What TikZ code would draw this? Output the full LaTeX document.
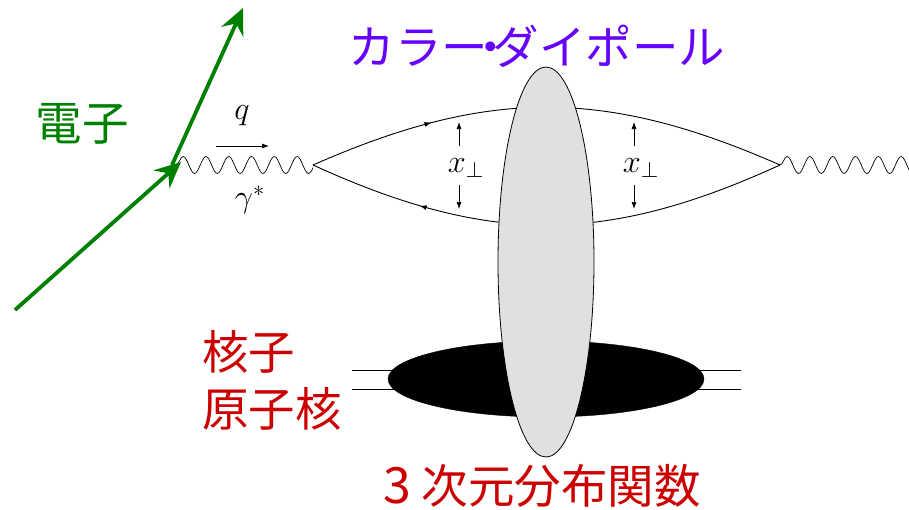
\documentclass[tikz,border=0pt]{standalone}
\usepackage{fontspec}
\usepackage{amsmath}
\newfontfamily\cjk{Noto Sans CJK JP}
\usetikzlibrary{shapes.geometric,arrows.meta,positioning,calc,decorations.pathmorphing,decorations.markings}
\definecolor{electrongreen}{RGB}{0, 128, 0}
\definecolor{dipolepurple}{RGB}{102, 0, 255}
\definecolor{nucleusred}{RGB}{204, 0, 0}
\definecolor{dipolegray}{RGB}{224, 224, 224}

\begin{document}
\begin{tikzpicture}[x=1pt, y=-1pt,
  electron/.style={draw=electrongreen, line width=3.8pt, -{Stealth[length=26pt, width=24pt, inset=9pt]}},
  photon/.style={draw=black, line width=0.7pt, decorate, decoration={snake, amplitude=8.5pt, segment length=22.8pt}},
  quarktop/.style={draw=black, line width=0.9pt, postaction={decorate}, decoration={markings, mark=at position 0.26 with {\arrow{Latex[length=7pt, width=5pt]}}}},
  quarkbot/.style={draw=black, line width=0.9pt, postaction={decorate}, decoration={markings, mark=at position 0.765 with {\arrow{Latex[length=7pt, width=5pt]}}}},
  dimarrow/.style={draw=black, line width=0.7pt, -{Latex[length=7pt, width=5pt]}},
  dipole/.style={draw=black, ellipse, fill=dipolegray, line width=0.8pt, minimum width=96pt, minimum height=390pt, inner sep=0pt},
  nucleon/.style={draw=black, ellipse, fill=black, minimum width=316pt, minimum height=76pt, inner sep=0pt},
  leg/.style={draw=black, line width=0.8pt},
  jplabel/.style={font=\cjk\fontsize{46.5}{50}\selectfont, inner sep=0pt, align=left},
  mathlabel/.style={font=\fontsize{24}{24}\selectfont, inner sep=0pt, text=black, scale=1.3}
]
\useasboundingbox (0,0) rectangle (909,509);

\coordinate (ein) at (15,310);
\coordinate (evert) at (172,165);
\coordinate (eout) at (243,8);
\coordinate (photonL) at (176,165);
\coordinate (vertexL) at (313,165);
\coordinate (vertexR) at (780,165);
\coordinate (photonR) at (909,165);
\coordinate (legA) at (352,370);
\coordinate (legB) at (741,370);
\coordinate (legC) at (352,389);
\coordinate (legD) at (741,389);

% Nucleon legs and blob
\draw[leg] (legA) -- (legB);
\draw[leg] (legC) -- (legD);
\node[nucleon] (blob) at (546,379) {};

% Photon lines
\begin{scope}
\clip ($(photonL)+(0,-20)$) rectangle ($(vertexL)+(0,20)$);
\draw[photon] (photonL) -- ++(160,0);
\end{scope}
\begin{scope}
\clip ($(vertexR)+(0,-20)$) rectangle ($(photonR)+(0,20)$);
\draw[photon] (vertexR) -- ++(160,0);
\end{scope}

% Quark loop
\draw[quarktop] (vertexL) .. controls (488,88) and (605,88) .. (vertexR);
\draw[quarkbot] (vertexR) .. controls (605,245) and (488,245) .. (vertexL);

\node[dipole] (dip) at (546,262) {};

% Electron
\draw[electron] (ein) -- (181,162);
\draw[electron] (evert) -- (eout);

% Momentum labels
\node[mathlabel] (qlab) at (242,116) {$q$};
\node[mathlabel] (gamlab) at (250,200) {$\gamma^*$};
\coordinate (qA) at (216,146);
\coordinate (qB) at (269,146);
\draw[dimarrow] (qA) -- (qB);

% Separation labels
\node[mathlabel] (xleft) at (466,168) {$x_\perp$};
\node[mathlabel] (xright) at (641,168) {$x_\perp$};
\draw[dimarrow] (459,146) -- (459,122);
\draw[dimarrow] (459,185) -- (459,209);
\draw[dimarrow] (634,146) -- (634,122);
\draw[dimarrow] (634,185) -- (634,209);

% Japanese labels
\node[jplabel, text=electrongreen] (denshi) at (82,124) {電子};
\node[jplabel, text=dipolepurple] (karadi) at (537,46) {カラー\hspace{-21pt}・\hspace{-21pt}ダイポール};
\node[jplabel, text=nucleusred, anchor=west] (kakushi) at (202,352) {核子};
\node[jplabel, text=nucleusred, anchor=west] (genshikaku) at (202,409) {原子核};
\node[jplabel, text=nucleusred, anchor=west] (bunpu) at (383,486) {{\fontsize{50}{50}\selectfont 3}\hspace{11pt}次元分布関数};

\end{tikzpicture}
\end{document}
